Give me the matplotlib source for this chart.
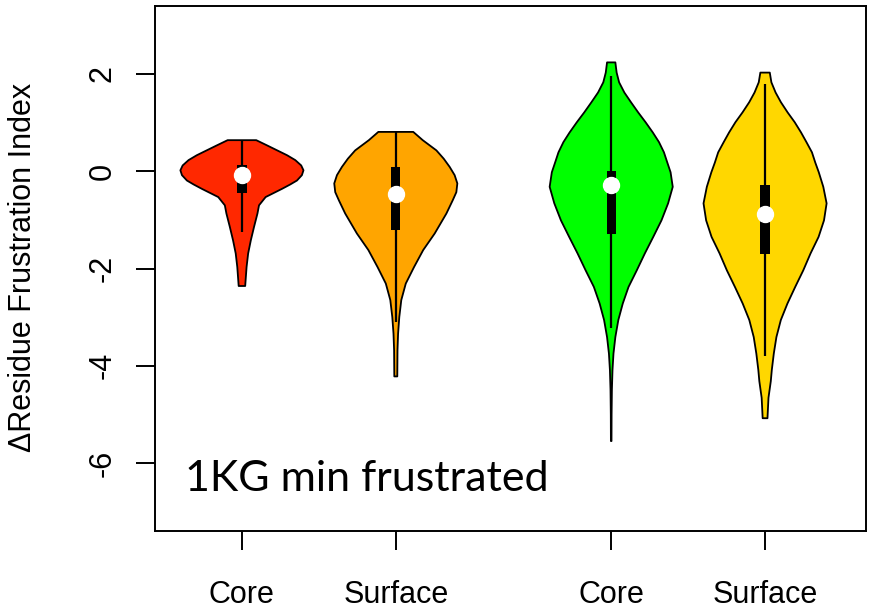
import matplotlib
matplotlib.use("Agg")
import matplotlib.pyplot as plt
import numpy as np

# ---------------- data ----------------
labels = ["Core", "Surface", "Core", "Surface"]
colors = ["#FF2800", "#FFA500", "#00FF00", "#FFD700"]

# violin outlines: value levels and relative half-widths (density profile)
red_y = [0.64, 0.53, 0.43, 0.33, 0.23, 0.12, 0.02, -0.08, -0.19, -0.27, -0.36, -0.53,
         -0.70, -0.87, -1.14, -1.42, -1.69, -1.97, -2.36]
red_w = [14.5, 25.7, 35.7, 45.7, 54.0, 60.0, 62.3, 60.7, 55.7, 49.0, 40.7, 24.0,
         17.3, 15.7, 12.3, 9.0, 6.3, 4.7, 3.3]

orange_y = [0.81, 0.64, 0.43, 0.26, 0.09, -0.08, -0.25, -0.43, -0.60, -0.87, -1.28, -1.62,
            -1.97, -2.31, -2.65, -3.00, -3.34, -3.68, -4.22]
orange_w = [17.5, 27.0, 40.7, 48.0, 54.0, 59.0, 61.7, 60.7, 57.0, 50.7, 39.0, 27.5,
            18.3, 10.0, 5.5, 3.5, 2.3, 1.7, 1.5]

green_y = [2.24, 2.03, 1.83, 1.62, 1.42, 1.21, 1.01, 0.80, 0.60, 0.39, 0.18, -0.02,
           -0.32, -0.66, -1.01, -1.35, -1.69, -2.04, -2.38, -2.72, -3.06, -3.41, -3.75,
           -4.09, -4.50, -5.00, -5.55]
green_w = [4.2, 5.5, 8.0, 13.3, 20.0, 27.3, 34.7, 42.0, 48.3, 53.3, 56.7, 60.0,
           62.2, 57.5, 50.8, 42.5, 34.0, 25.8, 17.5, 11.7, 7.2, 4.2, 2.3,
           1.3, 0.7, 0.4, 0.3]

yellow_y = [2.03, 1.83, 1.62, 1.42, 1.21, 1.01, 0.80, 0.60, 0.39, 0.18, -0.02, -0.32,
            -0.66, -1.01, -1.35, -1.69, -2.04, -2.38, -2.72, -3.06, -3.41, -3.75, -4.09,
            -4.32, -4.66, -5.08]
yellow_w = [4.7, 6.3, 10.5, 15.8, 22.5, 29.5, 35.8, 41.2, 46.7, 50.0, 53.5, 58.0,
            61.3, 58.7, 53.3, 45.3, 38.0, 30.0, 22.3, 15.7, 11.3, 8.7, 6.7,
            5.7, 3.4, 2.4]

# box-plot statistics
whisker_hi = [0.64, 0.81, 1.97, 1.79]
whisker_lo = [-1.25, -3.10, -3.23, -3.80]
q3 = [0.12, 0.09, 0.00, -0.29]
q1 = [-0.45, -1.20, -1.28, -1.71]
medians = [-0.07, -0.47, -0.29, -0.88]

yticks = [-6, -4, -2, 0, 2]
ylabel = "\u0394Residue Frustration Index"
annotation = "1KG min frustrated"

# ---------------- layout / style ----------------
positions = [1.0, 2.0, 3.4, 4.4]
max_half = 0.4
box_width = 0.06

profiles = [(red_y, red_w), (orange_y, orange_w), (green_y, green_w), (yellow_y, yellow_w)]

plt.rcParams['font.family'] = ['Liberation Sans', 'DejaVu Sans']

fig = plt.figure(figsize=(8.75, 6.13), dpi=100)
ax = fig.add_axes([155 / 875, 1 - 531 / 613, (866 - 155) / 875, (531 - 6) / 613])

for pos, (vy, vw), col, lo, hi, a, b, med in zip(positions, profiles, colors,
                                                   whisker_lo, whisker_hi, q1, q3, medians):
    vy = np.asarray(vy, dtype=float)
    vw = np.asarray(vw, dtype=float)
    hw = vw / vw.max() * max_half
    xs = np.concatenate([pos + hw, (pos - hw)[::-1]])
    ys = np.concatenate([vy, vy[::-1]])
    ax.fill(xs, ys, facecolor=col, edgecolor='black', linewidth=1.3, zorder=2,
            joinstyle='round')
    ax.vlines(pos, lo, hi, color='black', linewidth=1.6, zorder=3)
    ax.bar(pos, b - a, bottom=a, width=box_width, color='black', zorder=4)
    ax.plot([pos], [med], 'o', color='white', markersize=11.5, zorder=5)

ax.set_xlim(0.435, 5.056)
ax.set_ylim(-7.4, 3.4)
ax.set_xticks(positions, labels)
ax.set_yticks(yticks, [str(t) for t in yticks])
for s in ax.spines.values():
    s.set_linewidth(1.4)
ax.tick_params(axis='both', length=14, width=1.4, labelsize=22)
ax.tick_params(axis='x', pad=21)
ax.tick_params(axis='y', pad=13, labelrotation=90)
for lbl in ax.get_yticklabels():
    lbl.set_va('center')

fig.text(22.9 / 875, 1 - 267.6 / 613, ylabel, rotation=90, ha='center', va='center',
         fontsize=22)

ax.text(0.0415, 0.076, annotation, transform=ax.transAxes, ha='left', va='baseline',
        fontsize=31, family=['Lato', 'DejaVu Sans'])

fig.savefig("out.png", dpi=100)
